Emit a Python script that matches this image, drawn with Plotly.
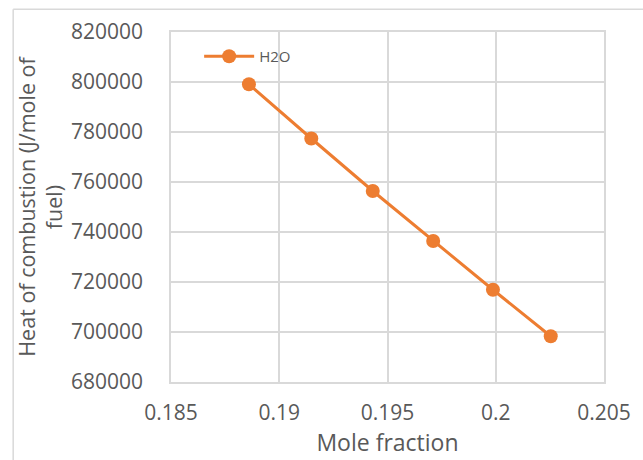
import plotly.graph_objects as go

mole_fraction = [0.1886, 0.19148, 0.19432, 0.19711, 0.19987, 0.20254]
heat_of_combustion = [799100, 777400, 756400, 736400, 716900, 698300]
series_name = "H2O"
x_ticks = [0.185, 0.19, 0.195, 0.2, 0.205]
x_tick_labels = ["0.185", "0.19", "0.195", "0.2", "0.205"]
y_ticks = [680000, 700000, 720000, 740000, 760000, 780000, 800000, 820000]

ORANGE = "#ED7D31"
GRID = "#D9D9D9"
TXT = "#595959"
FONT = "Open Sans"

fig = go.Figure()
fig.add_trace(go.Scatter(
    x=mole_fraction, y=heat_of_combustion, name=series_name,
    mode="lines+markers",
    line=dict(color=ORANGE, width=3),
    marker=dict(color=ORANGE, size=14),
    showlegend=True,
))

fig.update_layout(
    width=643, height=460,
    margin=dict(l=171, r=33, t=32, b=78),
    paper_bgcolor="white", plot_bgcolor="white",
    font=dict(family=FONT, color=TXT, size=21),
    showlegend=True,
    legend=dict(x=0.065, y=0.93, xanchor="left", yanchor="middle",
                itemwidth=50,
                bgcolor="rgba(0,0,0,0)", font=dict(size=15, color=TXT)),
    xaxis=dict(
        range=[0.185, 0.205], tickvals=x_ticks, ticktext=x_tick_labels,
        showgrid=True, gridcolor=GRID, gridwidth=1.5,
        showline=True, linecolor=GRID, linewidth=1.5, mirror=True,
        zeroline=False, ticks="", ticklabelstandoff=11,
        tickfont=dict(size=21, color=TXT),
        title=dict(text="Mole fraction", font=dict(size=23, color=TXT), standoff=2),
    ),
    yaxis=dict(
        range=[680000, 820000], tickvals=y_ticks,
        showgrid=True, gridcolor=GRID, gridwidth=1.5,
        showline=True, linecolor=GRID, linewidth=1.5, mirror=True,
        zeroline=False, ticks="", ticklabelstandoff=22,
        tickfont=dict(size=21, color=TXT), tickformat="d",
        title=dict(text="Heat of combustion (J/mole of<br>fuel)",
                   font=dict(size=21.5, color=TXT), standoff=2),
    ),
    shapes=[
        dict(type="line", xref="paper", yref="paper",
             x0=(11 - 171) / 439, x1=2, y0=(381.7 - 9) / 350, y1=(381.7 - 9) / 350,
             line=dict(color=GRID, width=1.5)),
        dict(type="line", xref="paper", yref="paper",
             x0=(11 - 171) / 439, x1=(11 - 171) / 439, y0=(381.7 - 9) / 350, y1=-1,
             line=dict(color=GRID, width=1.5)),
    ],
)

fig.write_html("out.html")
